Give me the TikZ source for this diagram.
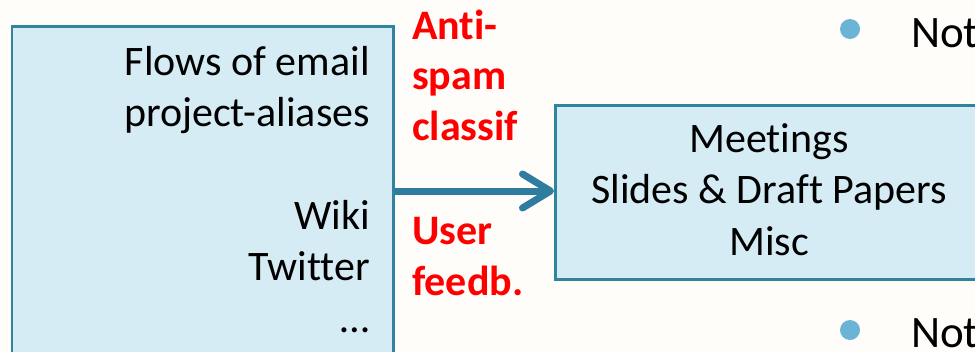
\documentclass[tikz,border=0pt]{standalone}
\usepackage{fontspec}
\setmainfont{Carlito}[Ligatures={NoCommon}]
\usetikzlibrary{arrows.meta}
\definecolor{boxfill}{RGB}{213,236,245}
\definecolor{boxline}{RGB}{49,132,158}
\definecolor{arrowc}{RGB}{46,124,160}
\definecolor{bulletc}{RGB}{108,180,214}
\definecolor{bgc}{RGB}{255,253,250}
\begin{document}
\begin{tikzpicture}[x=1pt,y=-1pt,
  box/.style={draw=boxline, fill=boxfill, line width=2.5pt, rectangle, inner sep=0pt, anchor=north west},
  boxtext/.style={inner sep=0pt, font=\fontsize{42}{51.4}\selectfont, text=black},
  redtext/.style={inner sep=0pt, align=left, anchor=base west, font=\bfseries\fontsize{42}{50.5}\selectfont, text=red},
  flow/.style={draw=arrowc, line width=7pt, -{Straight Barb[length=28pt, width=34pt, round]}},
  dot/.style={circle, fill=bulletc, inner sep=0pt, minimum size=20pt},
  note/.style={inner sep=0pt, anchor=base west, font=\fontsize{45}{54}\selectfont}
]
\fill[bgc] (0,0) rectangle (975,351);
\useasboundingbox (0,0) rectangle (975,351);
\node[box, minimum width=381.5pt, minimum height=400pt] (src) at (10.5,25) {};
\node[box, minimum width=460pt, minimum height=174pt] (dst) at (554,104) {};
\node[boxtext, align=right, anchor=base east] (srctext) at (370,332)
  {Flows of email\\project-aliases\\[51.4pt]Wiki\\Twitter\\…};
\node[boxtext, align=center, anchor=base] (dsttext) at (769,255)
  {Meetings\\Slides \& Draft Papers\\Misc};
\node[redtext] (anti) at (412,140) {Anti-\\spam\\classif};
\node[redtext] (user) at (412,295) {User\\feedb.};
\coordinate (start) at (src.east |- 0,191);
\draw[flow] (start) -- (start -| dst.west);
\node[dot] (b1) at (850,29) {};
\node[dot] (b2) at (850,330) {};
\node[note] (n1) at (911,47) {Not};
\node[note] (n2) at (911,347) {Not};
\end{tikzpicture}
\end{document}
